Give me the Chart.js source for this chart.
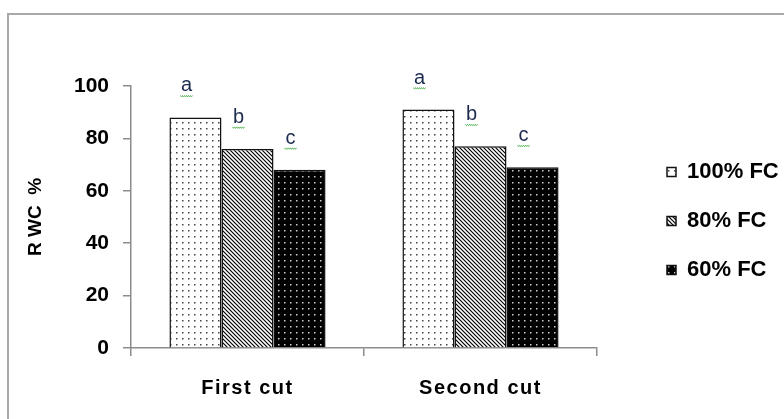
<!DOCTYPE html>
<html lang="en">
<head>
    <meta charset="UTF-8">
    <title>RWC %</title>
    <script src="https://cdn.jsdelivr.net/npm/chart.js"></script>
    <style>
        body {
            margin: 0;
            background: #fff;
            overflow: hidden;
        }

        .frame {
            position: absolute;
            left: 7px;
            top: 13px;
            width: 900px;
            height: 500px;
            border: 2px solid #a8a8a8;
        }

        .chart-box {
            position: absolute;
            left: 0;
            top: 0;
            width: 784px;
            height: 419px;
        }
    </style>
</head>
<body>
    <div class="frame"></div>
    <div class="chart-box">
        <canvas id="rwcChart"></canvas>
    </div>

    <script>
        // Data
        const cuts = ['First cut', 'Second cut'];
        const seriesNames = ['100% FC', '80% FC', '60% FC'];
        const fc100 = [88, 91];
        const fc80 = [76, 77];
        const fc60 = [68, 69];
        const letters100 = ['a', 'a'];
        const letters80 = ['b', 'b'];
        const letters60 = ['c', 'c'];
        const yTicks = [0, 20, 40, 60, 80, 100];

        const axisGray = '#8c8c8c';
        const font = 'Liberation Sans';

        // fill patterns for the bars
        const makePattern = (kind) => {
            const c = document.createElement('canvas');
            const g = c.getContext('2d');
            if (kind === 'hatch') {
                c.width = 4; c.height = 4;
                g.fillStyle = '#fff';
                g.fillRect(0, 0, 4, 4);
                g.strokeStyle = '#000';
                g.lineWidth = 1.2;
                g.beginPath();
                g.moveTo(-1, -1); g.lineTo(5, 5);
                g.moveTo(-1, 3); g.lineTo(1, 5);
                g.moveTo(3, -1); g.lineTo(5, 1);
                g.stroke();
            } else {
                c.width = 6; c.height = 6;
                g.fillStyle = kind === 'light' ? '#fff' : '#000';
                g.fillRect(0, 0, 6, 6);
                g.fillStyle = kind === 'light' ? '#444' : '#d0d0d0';
                g.fillRect(2, 2, 1.5, 1.5);
            }
            return g.createPattern(c, 'repeat');
        };

        // letters above the bars, with the green spell-check squiggle
        const letterPlugin = {
            id: 'letters',
            afterDatasetsDraw(chart) {
                const ctx = chart.ctx;
                ctx.save();
                ctx.font = '20px "' + font + '"';
                ctx.textAlign = 'center';
                ctx.textBaseline = 'alphabetic';
                chart.data.datasets.forEach((ds, i) => {
                    chart.getDatasetMeta(i).data.forEach((bar, j) => {
                        const x = bar.x - 9;
                        const y = bar.y - 26;
                        ctx.fillStyle = '#1d2b4f';
                        ctx.fillText(ds.letters[j], x, y);
                        ctx.strokeStyle = '#5cb85c';
                        ctx.lineWidth = 1;
                        ctx.beginPath();
                        for (let k = 0; k <= 12; k++) {
                            const px = x - 6 + k;
                            const py = y + 4 + (k % 2 === 0 ? 0 : 1.5);
                            if (k === 0) ctx.moveTo(px, py); else ctx.lineTo(px, py);
                        }
                        ctx.stroke();
                    });
                });
                ctx.restore();
            }
        };

        // category labels under the x axis (spaced out like the original)
        const cutLabelPlugin = {
            id: 'cutLabels',
            afterDraw(chart) {
                const ctx = chart.ctx;
                const xs = chart.scales.x;
                ctx.save();
                ctx.font = 'bold 20px "' + font + '"';
                ctx.letterSpacing = '1.5px';
                ctx.fillStyle = '#000';
                ctx.textAlign = 'center';
                ctx.textBaseline = 'middle';
                cuts.forEach((label, i) => {
                    ctx.fillText(label, xs.getPixelForTick(i), xs.top + 40);
                });
                ctx.restore();
            }
        };

        const ctx = document.getElementById('rwcChart').getContext('2d');
        new Chart(ctx, {
            type: 'bar',
            data: {
                labels: cuts,
                datasets: [
                    { label: seriesNames[0], data: fc100, letters: letters100, backgroundColor: makePattern('light') },
                    { label: seriesNames[1], data: fc80, letters: letters80, backgroundColor: makePattern('hatch') },
                    { label: seriesNames[2], data: fc60, letters: letters60, backgroundColor: makePattern('dark') }
                ].map(ds => Object.assign(ds, {
                    borderColor: '#111',
                    borderWidth: 1.5,
                    categoryPercentage: 0.67,
                    barPercentage: 1.0
                }))
            },
            options: {
                responsive: true,
                maintainAspectRatio: false,
                animation: false,
                layout: {
                    padding: { top: 86, bottom: 63, left: 0, right: 6 }
                },
                plugins: {
                    tooltip: { enabled: false },
                    legend: {
                        position: 'right',
                        align: 'center',
                        maxWidth: 138,
                        labels: {
                            color: '#000',
                            boxWidth: 9,
                            boxHeight: 9,
                            padding: 27,
                            font: { family: font, size: 22, weight: 'bold' }
                        }
                    }
                },
                scales: {
                    x: {
                        grid: { offset: true, drawOnChartArea: false, tickLength: 8, color: axisGray, lineWidth: 1.5 },
                        border: { color: axisGray, width: 1.5 },
                        ticks: { display: false },
                        afterFit(s) { s.height = 8; }
                    },
                    y: {
                        min: 0,
                        max: 100,
                        afterBuildTicks(s) { s.ticks = yTicks.map(v => ({ value: v })); },
                        ticks: {
                            color: '#000',
                            padding: 14,
                            font: { family: font, size: 21, weight: 'bold' }
                        },
                        grid: { drawOnChartArea: false, tickLength: 8, color: axisGray, lineWidth: 1.5 },
                        border: { color: axisGray, width: 1.5 },
                        title: {
                            display: true,
                            text: 'R WC  %',
                            color: '#000',
                            font: { family: font, size: 19, weight: 'bold' },
                            padding: { top: 24, bottom: 0 }
                        },
                        afterFit(s) { s.width = 131; }
                    },
                    // empty spacer between the plot and the legend
                    gap: {
                        type: 'linear',
                        position: 'right',
                        grid: { display: false },
                        border: { display: false },
                        ticks: { display: false },
                        afterFit(s) { s.width = 43; }
                    }
                }
            },
            plugins: [letterPlugin, cutLabelPlugin]
        });
    </script>
</body>
</html>
